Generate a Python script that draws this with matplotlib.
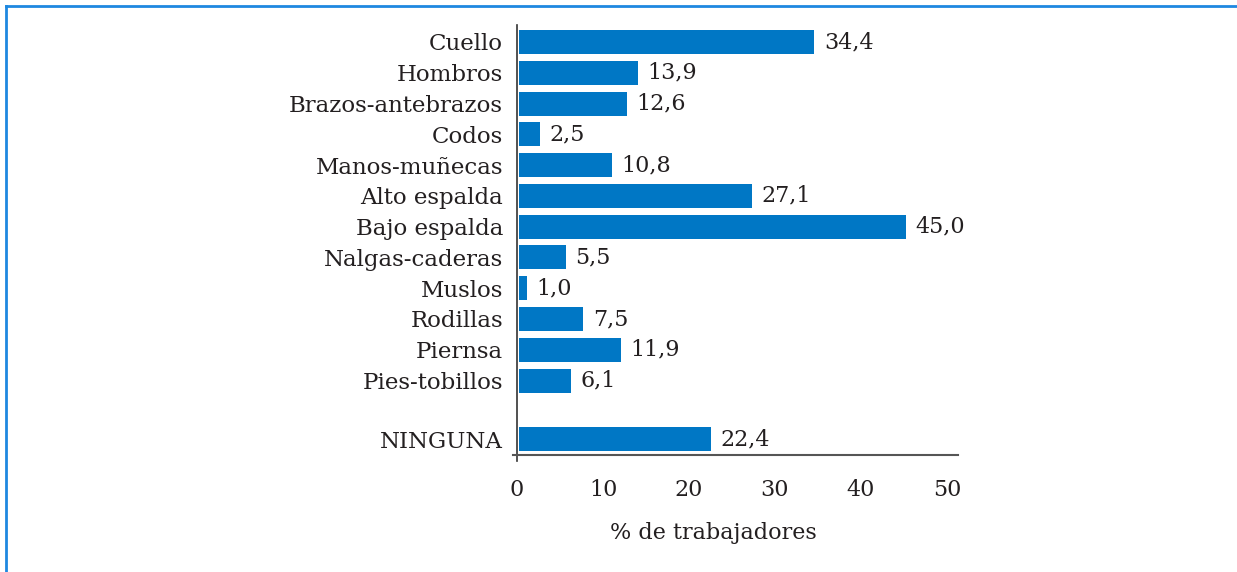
import matplotlib.pyplot as plt
from matplotlib.lines import Line2D

# datos
partes = ["Cuello", "Hombros", "Brazos-antebrazos", "Codos", "Manos-muñecas",
          "Alto espalda", "Bajo espalda", "Nalgas-caderas", "Muslos", "Rodillas",
          "Piernsa", "Pies-tobillos", "NINGUNA"]
valores = [34.4, 13.9, 12.6, 2.5, 10.8, 27.1, 45.0, 5.5, 1.0, 7.5, 11.9, 6.1, 22.4]
ticks_x = [0, 10, 20, 30, 40, 50]

plt.rcParams['font.family'] = ['DejaVu Serif']
fs = 16
tinta = '#231F20'

# posiciones: hueco antes de NINGUNA
pos = list(range(len(partes) - 1)) + [len(partes) - 1 + 0.9]

fig = plt.figure(figsize=(12.37, 5.72), dpi=100)
ax = fig.add_axes([0.4145, 0.2045, 0.36, 0.7517])

azul = '#0077C5'
ax.barh(pos, valores, height=0.78, color=azul, left=0.2)
for p, v in zip(pos, valores):
    ax.text(v + 0.2 + 1.1, p, f"{v:.1f}".replace('.', ','), va='center', ha='left',
            fontsize=fs, color=tinta)

ax.set_yticks(pos)
ax.set_yticklabels(partes)
ax.tick_params(axis='y', length=0, pad=10, labelsize=16.5, labelcolor=tinta)
ax.set_ylim(pos[-1] + 0.52, -0.55)

ax.set_xlim(-0.5, 51.3)
ax.set_xticks(ticks_x)
ax.set_xticklabels([str(t) for t in ticks_x])
ax.tick_params(axis='x', length=0, pad=17, labelsize=fs, labelcolor=tinta)
ax.set_xlabel("% de trabajadores", fontsize=fs, color=tinta, labelpad=14)
ax.xaxis.set_label_coords(0.451, -0.155)

ax.spines['top'].set_visible(False)
ax.spines['right'].set_visible(False)
ax.spines['left'].set_position(('data', 0))
ax.spines['left'].set_color('#333333')
ax.spines['bottom'].set_color('#555555')
ax.spines['left'].set_linewidth(1.2)
ax.spines['bottom'].set_linewidth(1.5)
# pequeña marca en 0
ax.plot([0, 0], [pos[-1] + 0.52, pos[-1] + 0.7], color='#333333', lw=1.2, clip_on=False)

# marco azul arriba e izquierda
borde = '#1E88E0'
fig.add_artist(Line2D([6 / 1237, 1], [1 - 6 / 572, 1 - 6 / 572], color=borde, lw=2))
fig.add_artist(Line2D([6 / 1237, 6 / 1237], [0, 1 - 6 / 572], color=borde, lw=2))

fig.savefig("out.png", dpi=100)
